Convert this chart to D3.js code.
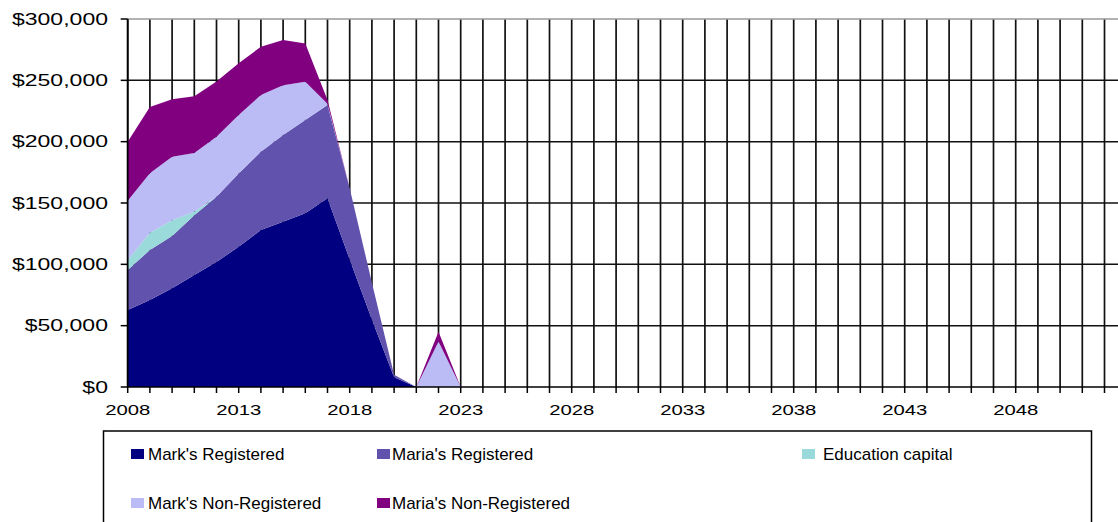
<!DOCTYPE html>
<html>
<head>
<meta charset="utf-8">
<script src="https://cdn.jsdelivr.net/npm/d3@7"></script>
<style>
  html, body { margin: 0; padding: 0; background: #fff; }
  svg { display: block; }
  text { font-family: Arial, "Liberation Sans", sans-serif; fill: #000; }
</style>
</head>
<body>
<div id="chart"></div>
<script>
// ---- Data ----
const years = [2008,2009,2010,2011,2012,2013,2014,2015,2016,2017,2018,2019,2020,2021,2022,2023,
  2024,2025,2026,2027,2028,2029,2030,2031,2032,2033,2034,2035,2036,2037,2038,2039,2040,
  2041,2042,2043,2044,2045,2046,2047,2048,2049,2050,2051,2052,2053];
const dataYears = [2008,2009,2010,2011,2012,2013,2014,2015,2016,2017,2018,2019,2020,2021,2022,2023];
const marksRegistered     = [62800, 70900, 80500, 91300, 102000, 114400, 128000, 134800, 141600, 153800, 104000, 55000, 8000, 0, 0, 0];
const mariasRegistered    = [32600, 40800, 42500, 48700, 53000, 59600, 63800, 70600, 76100, 76100, 58000, 30000, 2000, 0, 0, 0];
const educationCapital    = [8000, 14000, 13000, 3000, 0, 0, 0, 0, 0, 0, 0, 0, 0, 0, 0, 0];
const marksNonRegistered  = [48500, 48500, 51700, 47800, 49000, 47700, 46200, 40600, 31200, 1000, 0, 0, 0, 0, 37000, 0];
const mariasNonRegistered = [48000, 54000, 46800, 46200, 45000, 42200, 39400, 36900, 31100, 3000, 0, 0, 0, 0, 8000, 0];
const seriesNames = ["Mark's Registered", "Maria's Registered", "Education capital", "Mark's Non-Registered", "Maria's Non-Registered"];
const seriesColors = ["#000080", "#6152ad", "#9adada", "#bbbbf6", "#800080"];
const yTicks = [0, 50000, 100000, 150000, 200000, 250000, 300000];
const xTickLabels = [2008, 2013, 2018, 2023, 2028, 2033, 2038, 2043, 2048];

const W = 1118, H = 522;
const svg = d3.select("#chart").append("svg").attr("width", W).attr("height", H);

const x = d3.scaleLinear().domain([2008, 2053]).range([127.7, 127.7 + 45 * 22.2]);
const y = d3.scaleLinear().domain([0, 300000]).range([387, 19]);

const table = dataYears.map((yr, i) => ({
  year: yr,
  [seriesNames[0]]: marksRegistered[i],
  [seriesNames[1]]: mariasRegistered[i],
  [seriesNames[2]]: educationCapital[i],
  [seriesNames[3]]: marksNonRegistered[i],
  [seriesNames[4]]: mariasNonRegistered[i]
}));
const stacked = d3.stack().keys(seriesNames)(table);

// Gridlines (behind areas)
const grid = svg.append("g");
grid.selectAll("line.v").data(years).join("line")
  .attr("x1", d => x(d)).attr("x2", d => x(d))
  .attr("y1", y(300000)).attr("y2", y(0))
  .attr("stroke", "#111").attr("stroke-width", 1.7);
grid.selectAll("line.h").data(yTicks.filter(d => d > 0 && d < 300000)).join("line")
  .attr("x1", x(2008)).attr("x2", W)
  .attr("y1", d => y(d)).attr("y2", d => y(d))
  .attr("stroke", "#111").attr("stroke-width", 1.5);
// top border
svg.append("line").attr("x1", x(2008)).attr("x2", W)
  .attr("y1", y(300000)).attr("y2", y(300000))
  .attr("stroke", "#999").attr("stroke-width", 1.5);

// Areas
const area = d3.area()
  .x(d => x(d.data.year))
  .y0(d => y(d[0]))
  .y1(d => y(d[1]));
svg.append("g").selectAll("path").data(stacked).join("path")
  .attr("d", area)
  .attr("fill", (d, i) => seriesColors[i]);

// Axes
const yAxisG = svg.append("g");
yAxisG.append("line").attr("x1", x(2008)).attr("x2", x(2008))
  .attr("y1", y(300000)).attr("y2", y(0)).attr("stroke", "#000").attr("stroke-width", 1.7);
yAxisG.selectAll("line.t").data(yTicks).join("line")
  .attr("x1", x(2008) - 7).attr("x2", x(2008))
  .attr("y1", d => y(d)).attr("y2", d => y(d))
  .attr("stroke", "#000").attr("stroke-width", 1.5);
const fmt = v => "$" + d3.format(",")(v);
yAxisG.selectAll("text").data(yTicks).join("text")
  .attr("transform", d => `translate(108,${y(d) + 5.5}) scale(1.44,1)`)
  .attr("text-anchor", "end")
  .attr("font-size", 16)
  .text(fmt);

const xAxisG = svg.append("g");
xAxisG.append("line").attr("x1", x(2008)).attr("x2", W)
  .attr("y1", y(0)).attr("y2", y(0)).attr("stroke", "#000").attr("stroke-width", 1.7);
xAxisG.selectAll("line.t").data(years).join("line")
  .attr("x1", d => x(d)).attr("x2", d => x(d))
  .attr("y1", y(0)).attr("y2", y(0) + 6)
  .attr("stroke", "#000").attr("stroke-width", 1.5);
xAxisG.selectAll("text").data(xTickLabels).join("text")
  .attr("transform", d => `translate(${x(d)},415) scale(1.45,1)`)
  .attr("text-anchor", "middle")
  .attr("font-size", 14)
  .text(d => String(d));

// Legend
const lg = svg.append("g");
lg.append("rect").attr("x", 103.5).attr("y", 431).attr("width", 988).attr("height", 110)
  .attr("fill", "#fff").attr("stroke", "#000").attr("stroke-width", 1.5);
const legendPos = [
  {sx: 131, tx: 148, ty: 460},
  {sx: 377, tx: 392, ty: 460},
  {sx: 802, tx: 823, ty: 460},
  {sx: 131, tx: 148, ty: 509},
  {sx: 377, tx: 392, ty: 509}
];
seriesNames.forEach((name, i) => {
  const p = legendPos[i];
  lg.append("rect").attr("x", p.sx).attr("y", p.ty - 11).attr("width", 13).attr("height", 10)
    .attr("fill", seriesColors[i]);
  lg.append("text").attr("x", p.tx).attr("y", p.ty).attr("font-size", 17).text(name);
});
</script>
</body>
</html>
